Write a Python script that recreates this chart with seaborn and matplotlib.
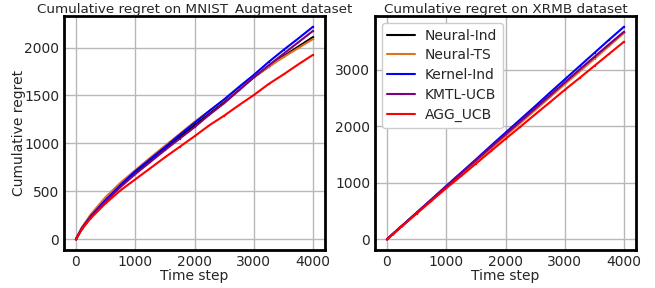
import numpy as np
import pandas as pd
import matplotlib
matplotlib.use("Agg")
import matplotlib.pyplot as plt
import seaborn as sns

steps = [0, 100, 250, 500, 750, 1000, 1250, 1500, 1750, 2000, 2250, 2500, 2750, 3000, 3250, 3500, 3750, 3999]
methods = ["Neural-Ind", "Neural-TS", "Kernel-Ind", "KMTL-UCB", "AGG_UCB"]
colors = ["black", "#e07020", "blue", "purple", "red"]

mnist_neural_ind = [0, 110, 235, 400, 555, 690, 820, 945, 1070, 1190, 1310, 1430, 1560, 1690, 1800, 1910, 2010, 2110]
mnist_neural_ts = [0, 125, 260, 440, 590, 720, 850, 975, 1100, 1225, 1340, 1455, 1575, 1690, 1800, 1900, 1995, 2090]
mnist_kernel_ind = [0, 115, 240, 410, 565, 710, 835, 960, 1090, 1215, 1340, 1460, 1590, 1715, 1850, 1975, 2095, 2218]
mnist_kmtl_ucb = [0, 110, 230, 395, 545, 680, 805, 930, 1050, 1170, 1300, 1420, 1555, 1690, 1815, 1935, 2055, 2175]
mnist_agg_ucb = [0, 105, 220, 375, 510, 625, 740, 855, 965, 1075, 1190, 1290, 1400, 1505, 1620, 1720, 1825, 1925]

xrmb_neural_ind = [0, 95, 235, 468, 700, 935, 1165, 1395, 1625, 1855, 2085, 2315, 2545, 2775, 3000, 3225, 3450, 3670]
xrmb_neural_ts = [0, 93, 232, 462, 692, 925, 1150, 1380, 1605, 1835, 2060, 2290, 2520, 2750, 2975, 3200, 3430, 3660]
xrmb_kernel_ind = [0, 95, 235, 470, 705, 945, 1180, 1415, 1655, 1890, 2125, 2360, 2600, 2835, 3070, 3305, 3540, 3768]
xrmb_kmtl_ucb = [0, 95, 235, 470, 705, 940, 1170, 1400, 1630, 1860, 2090, 2320, 2550, 2780, 3010, 3235, 3460, 3680]
xrmb_agg_ucb = [0, 90, 228, 455, 680, 905, 1120, 1340, 1560, 1780, 1995, 2215, 2430, 2650, 2860, 3075, 3290, 3503]

def to_long(series):
    rows = []
    for m, vals in zip(methods, series):
        for t, v in zip(steps, vals):
            rows.append({"Time step": t, "regret": v, "method": m})
    return pd.DataFrame(rows)

df_mnist = to_long([mnist_neural_ind, mnist_neural_ts, mnist_kernel_ind, mnist_kmtl_ucb, mnist_agg_ucb])
df_xrmb = to_long([xrmb_neural_ind, xrmb_neural_ts, xrmb_kernel_ind, xrmb_kmtl_ucb, xrmb_agg_ucb])

sns.set_style("whitegrid", {"grid.color": "#b8b8b8", "axes.edgecolor": "black"})
plt.rcParams["font.family"] = ["DejaVu Sans"]

fig = plt.figure(figsize=(6.55, 2.88), dpi=100)
ax1 = fig.add_axes([64/655, 1-250/288, (325-64)/655, (250-16)/288])
ax2 = fig.add_axes([375/655, 1-250/288, (636-375)/655, (250-16)/288])

palette = dict(zip(methods, colors))
for ax, df, title in [(ax1, df_mnist, "Cumulative regret on MNIST_Augment dataset"),
                      (ax2, df_xrmb, "Cumulative regret on XRMB dataset")]:
    sns.lineplot(data=df, x="Time step", y="regret", hue="method", palette=palette,
                 ax=ax, linewidth=1.5, marker=".", markersize=2, markeredgewidth=0,
                 legend=(ax is ax2))
    ax.set_title(title, fontsize=9.7, pad=2)
    ax.set_xlabel("Time step", fontsize=10, labelpad=0)
    ax.set_xticks([0, 1000, 2000, 3000, 4000])
    ax.tick_params(labelsize=10, length=2.5, width=1, color="#b8b8b8", pad=1)
    for s in ax.spines.values():
        s.set_linewidth(2)
        s.set_color("black")
    ax.grid(True, linewidth=1)

ax1.set_ylabel("Cumulative regret", fontsize=10)
ax1.yaxis.set_label_coords(-0.147, 0.5)
ax1.set_yticks([0, 500, 1000, 1500, 2000])
ax2.set_ylabel("")
ax2.set_yticks([0, 1000, 2000, 3000])
leg = ax2.legend(loc="upper left", fontsize=10, frameon=True, handlelength=2.0,
                 handletextpad=0.7, borderpad=0.4, labelspacing=0.42, framealpha=1)
leg.get_frame().set_edgecolor("#cccccc")

fig.savefig("out.png", dpi=100)
